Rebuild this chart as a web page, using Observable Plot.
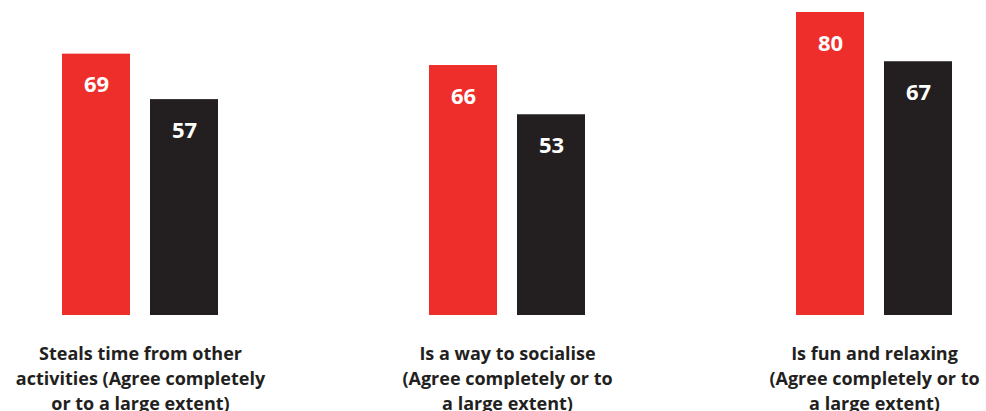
<!DOCTYPE html>
<html>
<head>
<meta charset="utf-8">
<script src="https://cdn.jsdelivr.net/npm/d3@7"></script>
<script src="https://cdn.jsdelivr.net/npm/@observablehq/plot@0.6"></script>
<style>
  html, body { margin: 0; padding: 0; background: #fff; }
  #chart { width: 986px; height: 411px; }
</style>
</head>
<body>
<div id="chart"></div>
<script>
const categories = [
  "Steals time from other\nactivities (Agree completely\nor to a large extent)",
  "Is a way to socialise\n(Agree completely or to\na large extent)",
  "Is fun and relaxing\n(Agree completely or to\na large extent)"
];
const series = ["A", "B"];
const valuesA = [69, 66, 80];
const valuesB = [57, 53, 67];
const colors = ["#EE2E2B", "#231F20"];

const data = [];
categories.forEach((c, i) => {
  data.push({cat: c, s: series[0], v: valuesA[i]});
  data.push({cat: c, s: series[1], v: valuesB[i]});
});

const font = "'Open Sans', sans-serif";

const chart = Plot.plot({
  width: 986,
  height: 411,
  marginTop: 12,
  marginBottom: 96,
  marginLeft: 61,
  marginRight: 33,
  style: {fontFamily: font, background: "#fff"},
  fx: {domain: categories, paddingInner: 0.5695, paddingOuter: 0, axis: null},
  x: {domain: series, paddingInner: 0.2247, paddingOuter: 0, axis: null},
  y: {domain: [0, 80], axis: null},
  color: {domain: series, range: colors},
  marks: [
    Plot.barY(data, {fx: "cat", x: "s", y: "v", fill: "s"}),
    Plot.text(data, {fx: "cat", x: "s", y: "v", text: d => String(d.v), dy: 31,
      fill: "white", fontSize: 22, fontWeight: "bold", fontFamily: font}),
    Plot.text(categories, {fx: d => d, text: d => d, frameAnchor: "bottom", lineAnchor: "middle",
      dy: 61, fontSize: 18, fontWeight: "bold", lineHeight: 25/18, fill: "#231F20", fontFamily: font})
  ]
});
document.getElementById("chart").appendChild(chart);
</script>
</body>
</html>
